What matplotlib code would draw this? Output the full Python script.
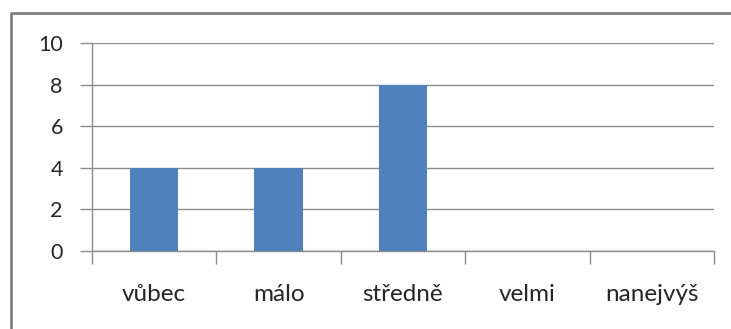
import matplotlib
matplotlib.use('Agg')
import matplotlib.pyplot as plt
from matplotlib.lines import Line2D
import numpy as np

categories = ['vůbec', 'málo', 'středně', 'velmi', 'nanejvýš']
counts = [4, 4, 8, 0, 0]
y_ticks = [0, 2, 4, 6, 8, 10]

plt.rcParams['font.family'] = ['Lato', 'DejaVu Sans']

W, H = 731, 329
fig = plt.figure(figsize=(W / 100, H / 100), dpi=100)
ax = fig.add_axes([92 / W, (H - 251) / H, (714 - 92) / W, (251 - 43) / H])

grid_col = '#8c8c8c'
text_col = '#262626'
x = np.arange(len(categories))
ax.bar(x, counts, width=0.39, color='#4f81bd', zorder=3)

ax.set_xlim(-0.5, len(categories) - 0.5)
ax.set_ylim(0, 10)
ax.set_yticks(y_ticks)
ax.yaxis.grid(True, color=grid_col, linewidth=1.0, zorder=0)

# category boundaries get the tick marks, the labels sit at bar centres
ax.set_xticks(np.arange(len(categories) + 1) - 0.5)
ax.set_xticklabels([])
ax.set_xticks(x, minor=True)
ax.set_xticklabels(categories, minor=True)
ax.tick_params(axis='x', which='major', direction='out', length=9, width=1, color=grid_col)
ax.tick_params(axis='x', which='minor', length=0, pad=24, labelsize=17.5, labelcolor=text_col)
ax.tick_params(axis='y', direction='out', length=9, width=1, color=grid_col,
               labelsize=15.5, labelcolor=text_col, pad=12)

for side in ['top', 'right']:
    ax.spines[side].set_visible(False)
for side in ['left', 'bottom']:
    ax.spines[side].set_color(grid_col)
    ax.spines[side].set_linewidth(1.0)

# outer chart frame
fig.add_artist(Line2D([11 / W, 11 / W, 1.0], [0.0, 1 - 13 / H, 1 - 13 / H],
                      transform=fig.transFigure, color='#808080', linewidth=2.0))

fig.savefig('out.png', dpi=100)
